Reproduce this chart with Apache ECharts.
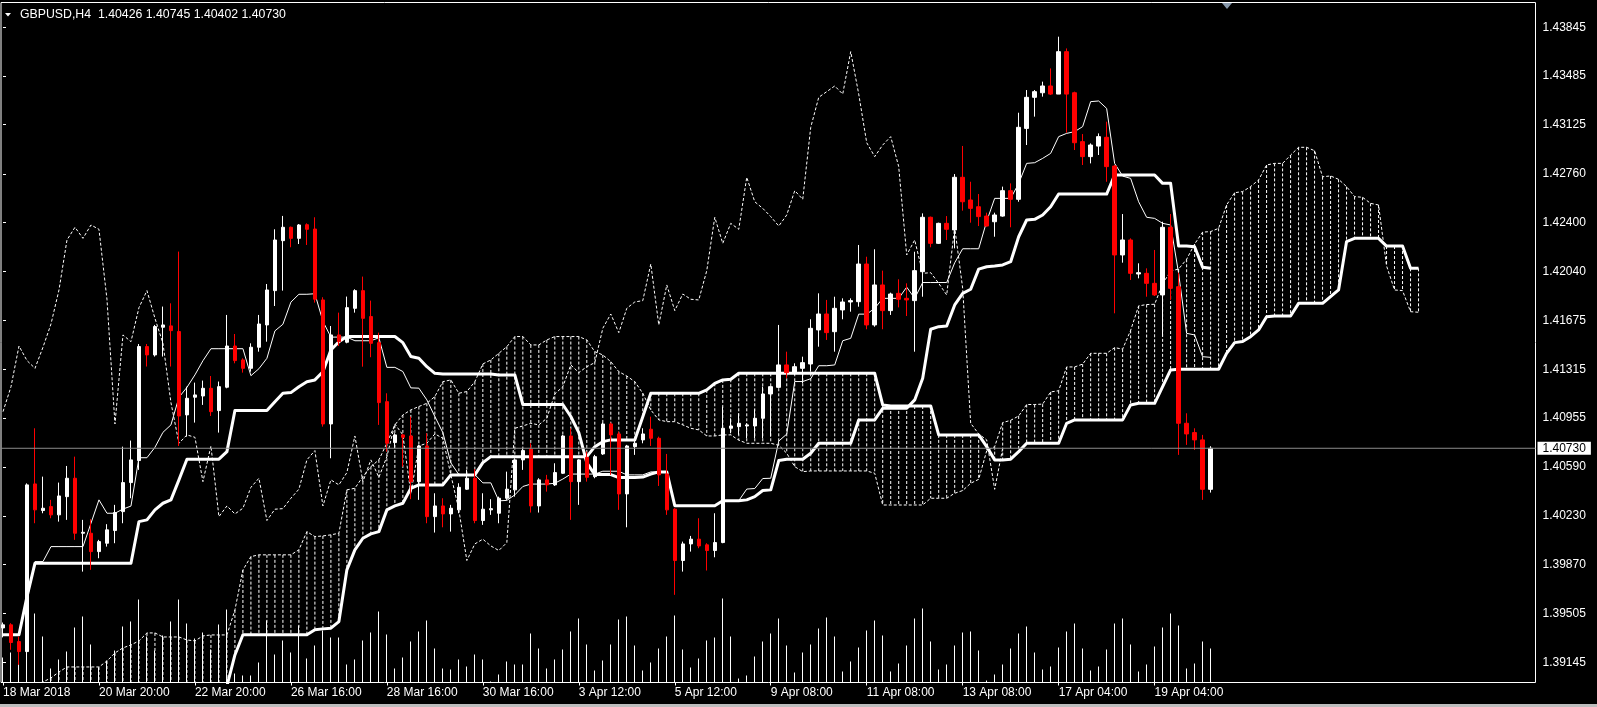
<!DOCTYPE html>
<html><head><meta charset="utf-8">
<script src="https://cdn.jsdelivr.net/npm/echarts@6/dist/echarts.min.js"></script>
<style>html,body{margin:0;padding:0;background:#000;}#c{width:1597px;height:707px;}</style>
</head><body><div id="c"></div>
<script>
const symbolName = 'GBPUSD,H4';
const timeLabels = ['18 Mar 2018','20 Mar 20:00','22 Mar 20:00','26 Mar 16:00','28 Mar 16:00','30 Mar 16:00','3 Apr 12:00','5 Apr 12:00','9 Apr 08:00','11 Apr 08:00','13 Apr 08:00','17 Apr 04:00','19 Apr 04:00'];
const timeLabelIndex = [0,12,24,36,48,60,72,84,96,108,120,132,144];
const priceTicks = [1.43845,1.43485,1.43125,1.42760,1.42400,1.42040,1.41675,1.41315,1.40955,1.40590,1.40230,1.39870,1.39505,1.39145];

const opens = [
1.39400,1.39423,1.39299,1.39225,1.40466,1.40269,1.40298,1.40237,1.40372,1.40508,
1.40101,1.40101,1.39965,1.40027,1.40121,1.40261,1.40476,1.40639,1.41483,1.41421,
1.41626,1.41636,1.41594,1.40977,1.41108,1.41117,1.41174,1.41009,1.41182,1.41487,
1.41384,1.41322,1.41478,1.41643,1.41897,1.42267,1.42366,1.42284,1.42385,1.42353,
1.41828,1.40910,1.41569,1.41515,1.41766,1.41897,1.41705,1.41512,1.41075,1.40772,
1.40829,1.40821,1.40483,1.40747,1.40224,1.40303,1.40244,1.40274,1.40427,1.40508,
1.40195,1.40274,1.40249,1.40360,1.40422,1.40644,1.40723,1.40303,1.40496,1.40459,
1.40545,1.40821,1.40483,1.40663,1.40520,1.40688,1.40910,1.40836,1.40392,1.40742,
1.40792,1.40871,1.40804,1.40540,1.40279,1.39899,1.40022,1.40057,1.40015,1.39973,
1.40032,1.40878,1.40890,1.40895,1.40895,1.40952,1.41132,1.41181,1.41347,1.41290,
1.41322,1.41354,1.41606,1.41724,1.41593,1.41754,1.41813,1.41815,1.42094,1.41643,
1.41939,1.41749,1.41877,1.41840,1.41823,1.42037,1.42440,1.42247,1.42395,1.42346,
1.42736,1.42568,1.42518,1.42449,1.42407,1.42449,1.42637,1.42573,1.43098,1.43328,
1.43362,1.43412,1.43352,1.43666,1.43362,1.43000,1.42889,1.42967,1.43032,1.42819,
1.42161,1.42272,1.42020,1.42025,1.41951,1.41865,1.42366,1.41926,1.40915,1.40846,
1.40792,1.40426];
const highs = [
1.39440,1.39435,1.39336,1.40470,1.40878,1.40520,1.40348,1.40476,1.40599,1.40668,
1.40200,1.40205,1.40052,1.40168,1.40311,1.40742,1.40787,1.41502,1.41502,1.41643,
1.41779,1.41803,1.42186,1.41186,1.41216,1.41231,1.41265,1.41224,1.41717,1.41576,
1.41396,1.41507,1.41717,1.41946,1.42351,1.42450,1.42371,1.42390,1.42395,1.42440,
1.41848,1.41635,1.41734,1.41853,1.41907,1.42001,1.41823,1.41586,1.41137,1.40841,
1.40836,1.40964,1.40755,1.40841,1.40397,1.40360,1.40311,1.40471,1.40570,1.40575,
1.40397,1.40353,1.40372,1.40557,1.40656,1.40730,1.40767,1.40508,1.40533,1.40619,
1.40829,1.40878,1.40649,1.40705,1.40681,1.40920,1.40920,1.40853,1.40755,1.40792,
1.40878,1.40964,1.40816,1.40688,1.40286,1.40039,1.40081,1.40212,1.40027,1.40249,
1.41038,1.40952,1.40989,1.40915,1.41019,1.41186,1.41191,1.41643,1.41445,1.41359,
1.41408,1.41685,1.41877,1.41828,1.41852,1.41840,1.41840,1.42235,1.42148,1.42203,
1.42045,1.41882,1.41981,1.41951,1.42185,1.42469,1.42445,1.42400,1.42449,1.42760,
1.42968,1.42703,1.42612,1.42474,1.42474,1.42667,1.42691,1.43214,1.43382,1.43382,
1.43444,1.43542,1.43777,1.43690,1.43370,1.43056,1.42987,1.43061,1.43148,1.42827,
1.42464,1.42284,1.42099,1.42062,1.42198,1.42407,1.42464,1.42030,1.40989,1.40878,
1.40829,1.40745];
const lows = [
1.39330,1.39238,1.39127,1.39218,1.40175,1.40249,1.40212,1.40187,1.40200,1.40052,
1.39817,1.39830,1.39916,1.40002,1.40027,1.40175,1.40360,1.40570,1.41335,1.41409,
1.41409,1.41335,1.40747,1.40816,1.40920,1.41051,1.40969,1.40846,1.41174,1.41359,
1.41290,1.41297,1.41445,1.41519,1.41783,1.41897,1.42218,1.42242,1.42235,1.41808,
1.40890,1.40656,1.41487,1.41507,1.41734,1.41334,1.41404,1.40903,1.40705,1.40730,
1.40594,1.40353,1.40348,1.40175,1.40106,1.40145,1.40113,1.40249,1.40422,1.40175,
1.40163,1.40237,1.40175,1.40348,1.40372,1.40570,1.40254,1.40254,1.40409,1.40451,
1.40540,1.40200,1.40311,1.40483,1.40508,1.40681,1.40533,1.40274,1.40145,1.40681,
1.40767,1.40747,1.40451,1.40237,1.39645,1.39817,1.39965,1.39990,1.39825,1.39923,
1.40027,1.40841,1.40830,1.40804,1.40804,1.40804,1.40816,1.41174,1.41248,1.41273,
1.41211,1.41297,1.41482,1.41532,1.41445,1.41685,1.41741,1.41778,1.41611,1.41630,
1.41611,1.41717,1.41773,1.41709,1.41445,1.41852,1.42218,1.42242,1.42272,1.42210,
1.42489,1.42400,1.42375,1.42370,1.42296,1.42444,1.42366,1.42555,1.42975,1.43185,
1.43333,1.43345,1.43352,1.43066,1.42938,1.42827,1.42839,1.42901,1.42703,1.41729,
1.42104,1.41976,1.41988,1.41852,1.41857,1.41556,1.41828,1.40681,1.40755,1.40718,
1.40348,1.40402];
const closes = [
1.39423,1.39292,1.39225,1.40459,1.40274,1.40286,1.40237,1.40377,1.40508,1.40101,
1.40108,1.39965,1.40039,1.40126,1.40254,1.40476,1.40644,1.41483,1.41421,1.41631,
1.41643,1.41601,1.40969,1.41100,1.41125,1.41174,1.41001,1.41186,1.41487,1.41379,
1.41322,1.41478,1.41650,1.41902,1.42272,1.42366,1.42284,1.42383,1.42351,1.41833,
1.40910,1.41569,1.41519,1.41771,1.41897,1.41692,1.41507,1.41068,1.40767,1.40829,
1.40811,1.40483,1.40747,1.40224,1.40303,1.40244,1.40286,1.40441,1.40508,1.40195,
1.40279,1.40283,1.40360,1.40427,1.40644,1.40713,1.40303,1.40496,1.40459,1.40550,
1.40821,1.40483,1.40644,1.40515,1.40668,1.40910,1.40829,1.40392,1.40747,1.40767,
1.40836,1.40804,1.40533,1.40274,1.39899,1.40022,1.40057,1.40007,1.39973,1.40032,
1.40878,1.40895,1.40915,1.40903,1.40952,1.41132,1.41186,1.41347,1.41290,1.41334,
1.41364,1.41618,1.41724,1.41586,1.41766,1.41813,1.41823,1.42094,1.41643,1.41939,
1.41749,1.41872,1.41833,1.41828,1.42045,1.42440,1.42247,1.42395,1.42351,1.42736,
1.42555,1.42506,1.42445,1.42375,1.42457,1.42637,1.42573,1.43106,1.43328,1.43370,
1.43412,1.43352,1.43666,1.43352,1.42992,1.42889,1.42975,1.43037,1.42815,1.42161,
1.42272,1.42025,1.42030,1.41951,1.41865,1.42366,1.41914,1.40915,1.40836,1.40792,
1.40426,1.40730];
const volumes = [
2500,3000,3200,3500,6900,4600,1400,2300,3100,5500,
6600,3800,1500,2200,3200,5600,6100,8300,4600,3200,
4700,6100,8300,5900,4400,5000,3300,5800,7300,900,
700,700,2000,6200,2800,4200,3000,5700,2400,3700,
5200,4500,4500,1800,2300,4200,5000,7100,4800,1400,
2500,4100,5100,6200,3400,1400,1300,2300,1600,2800,
2300,100,800,2100,1800,1800,4900,3400,1400,2300,
3300,5100,6400,3800,1200,2200,3800,6300,6600,3700,
1200,2000,3400,4600,6700,3300,1500,2400,4200,4500,
8400,4600,400,700,2600,4100,4900,6400,3700,1000,
3000,3800,5400,6500,4600,1100,2100,3500,5200,6200,
4700,1100,1900,3700,6400,7400,4100,1300,1800,3700,
5000,5100,3200,200,800,1800,3400,4900,5600,3000,
1300,1600,3500,5100,5900,3400,1200,1600,3300,5900,
6400,3800,1100,1800,3600,5500,6900,5700,1400,1900,
4100,3400];
const tenkan = [
1.39349,1.39349,1.39349,1.39608,1.39891,1.39891,1.40002,1.40002,1.40002,1.40002,
1.40002,1.40175,1.40348,1.40249,1.40249,1.40280,1.40302,1.40660,1.40660,1.40737,
1.40848,1.40903,1.41107,1.41181,1.41273,1.41378,1.41467,1.41467,1.41467,1.41467,
1.41467,1.41267,1.41319,1.41396,1.41599,1.41648,1.41812,1.41870,1.41870,1.41874,
1.41670,1.41553,1.41553,1.41553,1.41526,1.41526,1.41526,1.41548,1.41329,1.41329,
1.41298,1.41177,1.41175,1.41088,1.40965,1.40846,1.40622,1.40535,1.40535,1.40535,
1.40474,1.40474,1.40341,1.40344,1.40385,1.40447,1.40465,1.40465,1.40465,1.40471,
1.40502,1.40539,1.40539,1.40539,1.40539,1.40560,1.40560,1.40560,1.40533,1.40533,
1.40533,1.40555,1.40555,1.40555,1.40305,1.40305,1.40305,1.40305,1.40305,1.40305,
1.40342,1.40342,1.40342,1.40428,1.40432,1.40506,1.40508,1.40783,1.40835,1.41224,
1.41224,1.41245,1.41341,1.41341,1.41347,1.41526,1.41544,1.41723,1.41723,1.41766,
1.41840,1.41840,1.41840,1.41923,1.41840,1.41957,1.41957,1.41957,1.41957,1.42103,
1.42207,1.42207,1.42207,1.42410,1.42580,1.42580,1.42580,1.42690,1.42839,1.42844,
1.42876,1.42913,1.43037,1.43061,1.43074,1.43111,1.43296,1.43301,1.43246,1.42839,
1.42745,1.42728,1.42555,1.42440,1.42432,1.42395,1.42383,1.42025,1.41581,1.41569,
1.41408,1.41403];
const kijun = [
1.39349,1.39349,1.39349,1.39632,1.39879,1.39879,1.39879,1.39879,1.39879,1.39879,
1.39879,1.39879,1.39879,1.39879,1.39879,1.39879,1.39879,1.40187,1.40200,1.40274,
1.40323,1.40348,1.40496,1.40649,1.40649,1.40649,1.40649,1.40649,1.40705,1.41009,
1.41009,1.41009,1.41009,1.41009,1.41075,1.41137,1.41142,1.41186,1.41223,1.41236,
1.41297,1.41458,1.41519,1.41557,1.41557,1.41557,1.41557,1.41557,1.41557,1.41557,
1.41512,1.41409,1.41396,1.41334,1.41285,1.41280,1.41280,1.41280,1.41280,1.41280,
1.41280,1.41280,1.41273,1.41273,1.41273,1.41054,1.41054,1.41054,1.41054,1.41054,
1.41054,1.40965,1.40846,1.40622,1.40535,1.40535,1.40535,1.40513,1.40513,1.40513,
1.40517,1.40539,1.40555,1.40555,1.40305,1.40305,1.40305,1.40305,1.40305,1.40305,
1.40342,1.40342,1.40342,1.40348,1.40372,1.40417,1.40422,1.40639,1.40649,1.40649,
1.40649,1.40693,1.40767,1.40767,1.40767,1.40767,1.40767,1.40940,1.40940,1.40940,
1.41026,1.41026,1.41026,1.41026,1.41088,1.41248,1.41611,1.41630,1.41635,1.41791,
1.41877,1.41907,1.42056,1.42074,1.42079,1.42087,1.42111,1.42296,1.42420,1.42425,
1.42457,1.42518,1.42612,1.42612,1.42612,1.42612,1.42612,1.42612,1.42612,1.42753,
1.42753,1.42753,1.42753,1.42753,1.42753,1.42691,1.42691,1.42227,1.42227,1.42222,
1.42070,1.42062];
const spanA = [
1.38950,1.38930,1.38930,1.38950,1.38980,1.39000,1.39030,1.39074,1.39111,1.39111,
1.39111,1.39111,1.39111,1.39155,1.39215,1.39252,1.39274,1.39304,1.39363,1.39363,
1.39333,1.39333,1.39333,1.39311,1.39304,1.39341,1.39348,1.39348,1.39348,1.39533,
1.39829,1.39928,1.39941,1.39941,1.39941,1.39941,1.39941,1.39978,1.40113,1.40076,
1.40081,1.40089,1.40101,1.40422,1.40434,1.40520,1.40594,1.40644,1.40767,1.40903,
1.40977,1.41014,1.41039,1.41063,1.41113,1.41223,1.41236,1.41137,1.41150,1.41223,
1.41354,1.41384,1.41433,1.41482,1.41557,1.41557,1.41495,1.41495,1.41532,1.41557,
1.41557,1.41557,1.41557,1.41532,1.41445,1.41421,1.41371,1.41297,1.41265,1.41223,
1.41137,1.41014,1.40940,1.40927,1.40927,1.40903,1.40878,1.40866,1.40821,1.40821,
1.40829,1.40829,1.40790,1.40767,1.40767,1.40767,1.40767,1.40752,1.40693,1.40594,
1.40557,1.40562,1.40562,1.40562,1.40562,1.40562,1.40562,1.40562,1.40562,1.40545,
1.40310,1.40310,1.40310,1.40310,1.40310,1.40310,1.40360,1.40360,1.40360,1.40397,
1.40417,1.40471,1.40500,1.40711,1.40742,1.40920,1.40937,1.40969,1.41054,1.41054,
1.41057,1.41147,1.41156,1.41332,1.41332,1.41353,1.41433,1.41433,1.41433,1.41475,
1.41464,1.41603,1.41784,1.41794,1.41796,1.41947,1.42042,1.42057,1.42129,1.42242,
1.42330,1.42334,1.42358,1.42531,1.42622,1.42630,1.42667,1.42716,1.42827,1.42839,
1.42839,1.42900,1.42958,1.42958,1.42933,1.42740,1.42746,1.42721,1.42667,1.42593,
1.42588,1.42543,1.42531,1.42080,1.41902,1.41897,1.41741,1.41737];
const spanB = [
1.38800,1.38800,1.38800,1.38800,1.38800,1.38800,1.38800,1.38800,1.38800,1.38800,
1.38800,1.38800,1.38800,1.38800,1.38800,1.38800,1.38800,1.38800,1.38800,1.38800,
1.38800,1.38800,1.38800,1.38800,1.38800,1.38800,1.38800,1.38800,1.38970,1.39200,
1.39349,1.39349,1.39349,1.39349,1.39349,1.39349,1.39349,1.39349,1.39349,1.39386,
1.39393,1.39398,1.39447,1.39830,1.39978,1.40064,1.40096,1.40113,1.40274,1.40303,
1.40323,1.40434,1.40459,1.40459,1.40459,1.40459,1.40533,1.40533,1.40533,1.40533,
1.40624,1.40668,1.40668,1.40668,1.40668,1.40668,1.40668,1.40668,1.40668,1.40668,
1.40668,1.40668,1.40668,1.40668,1.40742,1.40779,1.40792,1.40792,1.40792,1.40792,
1.40964,1.41137,1.41137,1.41137,1.41137,1.41137,1.41137,1.41137,1.41162,1.41211,
1.41236,1.41241,1.41285,1.41285,1.41285,1.41285,1.41285,1.41285,1.41285,1.41285,
1.41285,1.41285,1.41285,1.41285,1.41285,1.41285,1.41285,1.41285,1.41285,1.41285,
1.41051,1.41043,1.41043,1.41043,1.41043,1.41043,1.41043,1.40829,1.40829,1.40829,
1.40829,1.40829,1.40829,1.40742,1.40644,1.40644,1.40649,1.40705,1.40767,1.40767,
1.40767,1.40767,1.40767,1.40915,1.40940,1.40940,1.40940,1.40940,1.40940,1.40940,
1.40940,1.41051,1.41063,1.41063,1.41063,1.41186,1.41310,1.41315,1.41315,1.41315,
1.41315,1.41315,1.41315,1.41433,1.41512,1.41520,1.41556,1.41606,1.41704,1.41709,
1.41709,1.41709,1.41803,1.41803,1.41803,1.41803,1.41853,1.41902,1.42260,1.42284,
1.42284,1.42284,1.42284,1.42227,1.42227,1.42227,1.42062,1.42062];
const chikouShift = 26;

const last = closes.length - 1;
const yMin = 1.38996, yMax = 1.44030;
const xMin = -0.25, xMax = 191.625;
const font = 'Liberation Sans';

const candleData = opens.map((o, i) => [i, o, closes[i], lows[i], highs[i]]);
const volData = volumes.map((v, i) => [i, v]);
const cloudData = spanA.map((a, i) => [i, a, spanB[i]]);
const toXY = arr => arr.map((v, i) => [i, v]);
const chikouData = closes.slice(chikouShift).map((v, i) => [i, v]);
const bidLine = [[xMin, closes[last]], [xMax, closes[last]]];

const chart = echarts.init(document.getElementById('c'), null, {renderer: 'canvas'});
chart.setOption({
  animation: false,
  backgroundColor: '#000',
  textStyle: {fontFamily: font},
  grid: [
    {left: 0.5, right: 61.5, top: 2.5, bottom: 24.5, show: true, borderColor: '#fff', borderWidth: 1, backgroundColor: 'transparent'},
    {left: 0.5, right: 61.5, bottom: 24.5, height: 100, show: false}
  ],
  xAxis: [
    {type: 'value', gridIndex: 0, min: xMin, max: xMax,
     axisLine: {show: false}, splitLine: {show: false},
     axisTick: {show: true, customValues: timeLabelIndex, length: 3, lineStyle: {color: '#fff'}},
     axisLabel: {customValues: timeLabelIndex, formatter: v => timeLabels[timeLabelIndex.indexOf(v)] || '',
                 color: '#fff', fontSize: 12, align: 'left', margin: 4, fontFamily: font}},
    {type: 'value', gridIndex: 1, min: xMin, max: xMax, show: false}
  ],
  yAxis: [
    {type: 'value', gridIndex: 0, position: 'right', min: yMin, max: yMax,
     axisLine: {show: false}, splitLine: {show: false},
     axisTick: {show: true, customValues: priceTicks, length: 3, lineStyle: {color: '#fff'}},
     axisLabel: {customValues: priceTicks, formatter: v => v.toFixed(5), color: '#fff', fontSize: 12, margin: 7, fontFamily: font}},
    {type: 'value', gridIndex: 0, position: 'right', min: yMin, max: yMax,
     axisLine: {show: false}, splitLine: {show: false}, axisTick: {show: false},
     axisLabel: {customValues: [closes[last]], formatter: v => v.toFixed(5), color: '#000', backgroundColor: '#fff',
                 padding: [1, 5, 0, 5], lineHeight: 12, fontSize: 12, margin: 2, fontFamily: font}},
    {type: 'value', gridIndex: 1, min: 0, max: 10000, show: false}
  ],
  series: [
    {type: 'bar', name: 'Volumes', xAxisIndex: 1, yAxisIndex: 2, data: volData, barWidth: 1,
     itemStyle: {color: '#fff'}, silent: true, z: 1},
    {type: 'custom', name: 'Cloud', xAxisIndex: 0, yAxisIndex: 0, data: cloudData, encode: {x: 0, y: [1, 2]}, silent: true, z: 2,
     renderItem: (params, api) => {
       const x = api.value(0);
       const p1 = api.coord([x, api.value(1)]);
       const p2 = api.coord([x, api.value(2)]);
       const cs = params.coordSys;
       const top = cs.y, bot = cs.y + cs.height;
       const y1 = Math.max(top, Math.min(bot, p1[1]));
       const y2 = Math.max(top, Math.min(bot, p2[1]));
       if (Math.abs(y1 - y2) < 0.5) return null;
       return {type: 'line', shape: {x1: p1[0], y1: Math.min(y1, y2), x2: p1[0], y2: Math.max(y1, y2)},
               style: {stroke: '#fff', lineWidth: 1, lineDash: [3, 2]}};
     }},
    {type: 'line', name: 'Senkou Span B', data: toXY(spanB), symbol: 'none', silent: true, z: 3,
     lineStyle: {color: '#fff', width: 3, join: 'round'}},
    {type: 'line', name: 'Senkou Span A', data: toXY(spanA), symbol: 'none', silent: true, z: 3,
     lineStyle: {color: '#fff', width: 1, type: [3, 2]}},
    {type: 'line', name: 'Chikou Span', data: chikouData, symbol: 'none', silent: true, z: 4,
     lineStyle: {color: '#fff', width: 1, type: [3, 2]}},
    {type: 'line', name: 'Kijun-sen', data: toXY(kijun), symbol: 'none', silent: true, z: 4,
     lineStyle: {color: '#fff', width: 3, join: 'round'}},
    {type: 'line', name: 'Tenkan-sen', data: toXY(tenkan), symbol: 'none', silent: true, z: 4,
     lineStyle: {color: '#fff', width: 1}},
    {type: 'candlestick', name: symbolName, data: candleData, barWidth: 4, silent: true, z: 5,
     itemStyle: {color: '#fff', color0: '#f00', borderColor: '#fff', borderColor0: '#f00', borderWidth: 1}},
    {type: 'line', name: 'Bid', data: bidLine, symbol: 'none', silent: true, z: 6,
     lineStyle: {color: '#8c8c8c', width: 1}}
  ],
  graphic: [
    {type: 'polygon', shape: {points: [[5, 13], [11, 13], [8, 16.5]]}, style: {fill: '#fff'}, silent: true},
    {type: 'text', left: 20, top: 8.5, silent: true,
     style: {text: symbolName + '  ' + [opens[last], highs[last], lows[last], closes[last]].map(v => v.toFixed(5)).join(' '),
             fill: '#fff', font: '12.3px "' + font + '"'}},
    {type: 'polygon', shape: {points: [[1222, 3], [1232, 3], [1227, 9]]}, style: {fill: '#8798ab'}, silent: true},
    {type: 'rect', shape: {x: 0, y: 704, width: 1597, height: 3}, style: {fill: '#bdbdbd'}, silent: true}
  ]
});
</script>
</body></html>
